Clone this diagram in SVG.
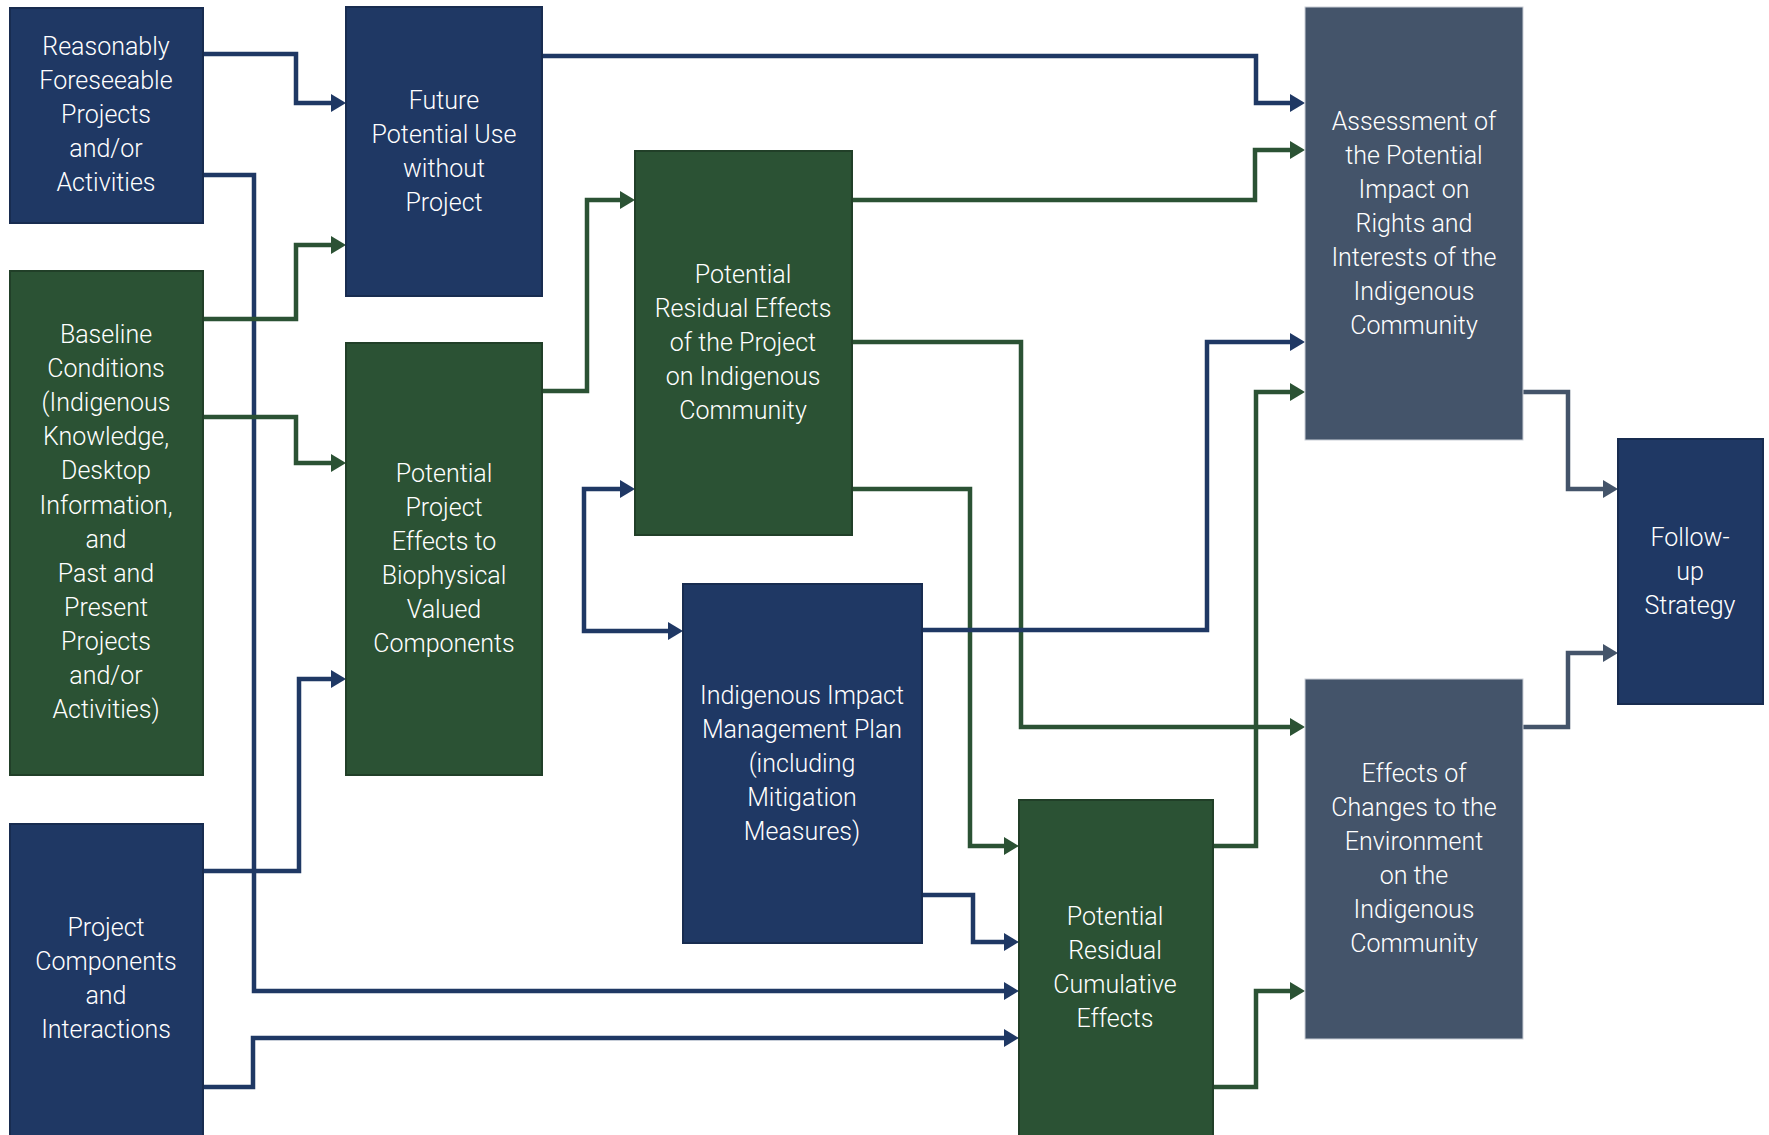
<svg xmlns="http://www.w3.org/2000/svg" width="1769" height="1135" viewBox="0 0 1769 1135">
<style>
.navy{fill:#1F3864;stroke:#182c50;stroke-width:2}
.green{fill:#2B5234;stroke:#213f28;stroke-width:2}
.slate{fill:#44546A;stroke:#c9ced6;stroke-width:1}
text{font-family:Roboto,"Liberation Sans",sans-serif;font-size:25px;fill:#ffffff;text-anchor:middle;font-weight:300}
.c{fill:none;stroke-width:4.5;stroke-linejoin:miter}
.cn{stroke:#1F3864}
.cg{stroke:#2B5234}
.cs{stroke:#44546A}
</style>
<defs>
<marker id="an" markerUnits="userSpaceOnUse" markerWidth="16" markerHeight="20" refX="0" refY="9" orient="auto-start-reverse" viewBox="0 0 16 18"><path d="M0,0 L15,9 L0,18 z" fill="#1F3864"/></marker>
<marker id="ag" markerUnits="userSpaceOnUse" markerWidth="16" markerHeight="20" refX="0" refY="9" orient="auto-start-reverse" viewBox="0 0 16 18"><path d="M0,0 L15,9 L0,18 z" fill="#2B5234"/></marker>
<marker id="as" markerUnits="userSpaceOnUse" markerWidth="16" markerHeight="20" refX="0" refY="9" orient="auto-start-reverse" viewBox="0 0 16 18"><path d="M0,0 L15,9 L0,18 z" fill="#44546A"/></marker>
</defs>
<rect width="1769" height="1135" fill="#ffffff"/>
<g id="connectors">
<path class="c cn" d="M203,54 H296 V103 H331" marker-end="url(#an)"/>
<path class="c cn" d="M203,175 H254 V991 H1004" marker-end="url(#an)"/>
<path class="c cg" d="M203,319 H296 V245 H331" marker-end="url(#ag)"/>
<path class="c cg" d="M203,417 H296 V463 H331" marker-end="url(#ag)"/>
<path class="c cn" d="M203,871 H299 V679 H331" marker-end="url(#an)"/>
<path class="c cn" d="M203,1087 H253 V1038 H1004" marker-end="url(#an)"/>
<path class="c cn" d="M542,56 H1256 V103 H1290" marker-end="url(#an)"/>
<path class="c cg" d="M542,391 H587 V200 H620" marker-end="url(#ag)"/>
<path class="c cg" d="M852,200 H1255 V150 H1290" marker-end="url(#ag)"/>
<path class="c cg" d="M852,342 H1021 V727 H1290" marker-end="url(#ag)"/>
<path class="c cg" d="M852,489 H970 V846 H1004" marker-end="url(#ag)"/>
<path class="c cn" d="M620,489 H584 V631 H668" marker-start="url(#an)" marker-end="url(#an)"/>
<path class="c cn" d="M922,630 H1207 V342 H1290" marker-end="url(#an)"/>
<path class="c cn" d="M922,895 H973 V942 H1004" marker-end="url(#an)"/>
<path class="c cg" d="M1213,846 H1256 V392 H1290" marker-end="url(#ag)"/>
<path class="c cg" d="M1213,1087 H1256 V991 H1290" marker-end="url(#ag)"/>
<path class="c cs" d="M1523,392 H1568 V489 H1603" marker-end="url(#as)"/>
<path class="c cs" d="M1523,727 H1568 V653 H1603" marker-end="url(#as)"/>
</g>
<g id="reasonably">
<rect class="navy" x="10" y="8" width="193" height="215"/>
<text x="106" y="55">Reasonably</text><text x="106" y="89">Foreseeable</text><text x="106" y="123">Projects</text><text x="106" y="157">and/or</text><text x="106" y="191">Activities</text>
</g>
<g id="baseline">
<rect class="green" x="10" y="271" width="193" height="504"/>
<text x="106" y="343">Baseline</text><text x="106" y="377">Conditions</text><text x="106" y="411">(Indigenous</text><text x="106" y="445">Knowledge,</text><text x="106" y="479">Desktop</text><text x="106" y="514">Information,</text><text x="106" y="548">and</text><text x="106" y="582">Past and</text><text x="106" y="616">Present</text><text x="106" y="650">Projects</text><text x="106" y="684">and/or</text><text x="106" y="718">Activities)</text>
</g>
<g id="project-components">
<rect class="navy" x="10" y="824" width="193" height="320"/>
<text x="106" y="936">Project</text><text x="106" y="970">Components</text><text x="106" y="1004">and</text><text x="106" y="1038">Interactions</text>
</g>
<g id="future">
<rect class="navy" x="346" y="7" width="196" height="289"/>
<text x="444" y="109">Future</text><text x="444" y="143">Potential Use</text><text x="444" y="177">without</text><text x="444" y="211">Project</text>
</g>
<g id="ppe">
<rect class="green" x="346" y="343" width="196" height="432"/>
<text x="444" y="482">Potential</text><text x="444" y="516">Project</text><text x="444" y="550">Effects to</text><text x="444" y="584">Biophysical</text><text x="444" y="618">Valued</text><text x="444" y="652">Components</text>
</g>
<g id="pre">
<rect class="green" x="635" y="151" width="217" height="384"/>
<text x="743" y="283">Potential</text><text x="743" y="317">Residual Effects</text><text x="743" y="351">of the Project</text><text x="743" y="385">on Indigenous</text><text x="743" y="419">Community</text>
</g>
<g id="iimp">
<rect class="navy" x="683" y="584" width="239" height="359"/>
<text x="802" y="704">Indigenous Impact</text><text x="802" y="738">Management Plan</text><text x="802" y="772">(including</text><text x="802" y="806">Mitigation</text><text x="802" y="840">Measures)</text>
</g>
<g id="cumulative">
<rect class="green" x="1019" y="800" width="194" height="345"/>
<text x="1115" y="925">Potential</text><text x="1115" y="959">Residual</text><text x="1115" y="993">Cumulative</text><text x="1115" y="1027">Effects</text>
</g>
<g id="assessment">
<rect class="slate" x="1305" y="7" width="218" height="433"/>
<text x="1414" y="130">Assessment of</text><text x="1414" y="164">the Potential</text><text x="1414" y="198">Impact on</text><text x="1414" y="232">Rights and</text><text x="1414" y="266">Interests of the</text><text x="1414" y="300">Indigenous</text><text x="1414" y="334">Community</text>
</g>
<g id="effects-changes">
<rect class="slate" x="1305" y="679" width="218" height="360"/>
<text x="1414" y="782">Effects of</text><text x="1414" y="816">Changes to the</text><text x="1414" y="850">Environment</text><text x="1414" y="884">on the</text><text x="1414" y="918">Indigenous</text><text x="1414" y="952">Community</text>
</g>
<g id="follow-up">
<rect class="navy" x="1618" y="439" width="145" height="265"/>
<text x="1690" y="546">Follow-</text><text x="1690" y="580">up</text><text x="1690" y="614">Strategy</text>
</g>
</svg>
